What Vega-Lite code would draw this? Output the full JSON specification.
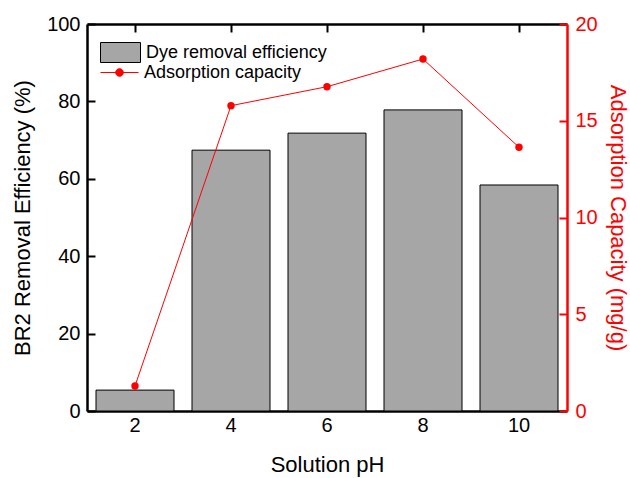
{
  "$schema": "https://vega.github.io/schema/vega-lite/v6.json",
  "width": 480,
  "height": 387,
  "autosize": {"type": "none"},
  "padding": {"left": 87, "top": 24, "right": 63, "bottom": 67},
  "background": "white",
  "config": {
    "font": "Liberation Sans",
    "view": {"stroke": null},
    "axis": {
      "grid": false,
      "domainWidth": 2.5,
      "domainColor": "black",
      "tickColor": "black",
      "tickWidth": 2,
      "tickSize": -8,
      "labelFontSize": 20,
      "titleFontSize": 22,
      "titleFontWeight": "normal",
      "labelColor": "black",
      "titleColor": "black",
      "labelFont": "Liberation Sans",
      "titleFont": "Liberation Sans"
    },
    "legend": {"labelFont": "Liberation Sans", "labelFontSize": 18, "labelColor": "black", "labelLimit": 0}
  },
  "data": {
    "values": [
      {"pH": "2", "efficiency": 5.4, "capacity": 1.29},
      {"pH": "4", "efficiency": 67.4, "capacity": 15.78},
      {"pH": "6", "efficiency": 71.8, "capacity": 16.76},
      {"pH": "8", "efficiency": 77.8, "capacity": 18.19},
      {"pH": "10", "efficiency": 58.4, "capacity": 13.63}
    ]
  },
  "layer": [
    {
      "mark": {"type": "bar", "stroke": "black", "strokeWidth": 1},
      "encoding": {
        "x": {
          "field": "pH",
          "type": "ordinal",
          "sort": null,
          "scale": {"paddingInner": 0.1875, "paddingOuter": 0.09375},
          "axis": {"title": "Solution pH", "labelAngle": 0, "labelPadding": 12, "titlePadding": 19}
        },
        "y": {
          "field": "efficiency",
          "type": "quantitative",
          "scale": {"domain": [0, 100], "nice": false},
          "axis": {"title": "BR2 Removal Efficiency (%)", "values": [0, 20, 40, 60, 80, 100], "labelPadding": 15, "titlePadding": 12}
        },
        "fill": {
          "datum": "Dye removal efficiency",
          "scale": {"range": ["#a6a6a6"]},
          "legend": {
            "title": null,
            "orient": "none",
            "legendX": 13,
            "legendY": 8,
            "symbolType": "M-1,-0.5H1V0.5H-1Z",
            "symbolSize": 1600,
            "symbolStrokeColor": "black",
            "symbolStrokeWidth": 1,
            "labelOffset": 5
          }
        }
      }
    },
    {
      "mark": {"type": "line", "strokeWidth": 1},
      "encoding": {
        "x": {
          "field": "pH",
          "type": "ordinal",
          "sort": null,
          "axis": {"orient": "top", "title": null, "labels": false}
        },
        "y": {"field": "capacity", "type": "quantitative", "scale": {"domain": [0, 20], "nice": false}, "axis": null},
        "stroke": {
          "datum": "Adsorption capacity",
          "scale": {"range": ["#ff0000"]},
          "legend": {
            "title": null,
            "orient": "none",
            "legendX": 13,
            "legendY": 29,
            "symbolType": "M-1,0H1M-0.2,0A0.2,0.2,0,1,1,0.2,0A0.2,0.2,0,1,1,-0.2,0Z",
            "symbolSize": 1444,
            "symbolStrokeWidth": 1,
            "labelOffset": 5,
            "encode": {"symbols": {"update": {"fill": {"value": "#ff0000"}}}}
          }
        }
      }
    },
    {
      "mark": {"type": "point", "filled": true, "color": "#ff0000", "size": 55, "opacity": 1},
      "encoding": {
        "x": {"field": "pH", "type": "ordinal", "sort": null, "axis": null},
        "y": {
          "field": "capacity",
          "type": "quantitative",
          "scale": {"domain": [0, 20], "nice": false},
          "axis": {
            "orient": "right",
            "title": "Adsorption Capacity (mg/g)",
            "values": [0, 5, 10, 15, 20],
            "domainColor": "#ff0000",
            "tickColor": "#ff0000",
            "labelColor": "#ff0000",
            "titleColor": "#ff0000",
            "labelPadding": 16,
            "titlePadding": 8
          }
        }
      }
    }
  ],
  "resolve": {"scale": {"y": "independent"}, "axis": {"x": "independent"}}
}
